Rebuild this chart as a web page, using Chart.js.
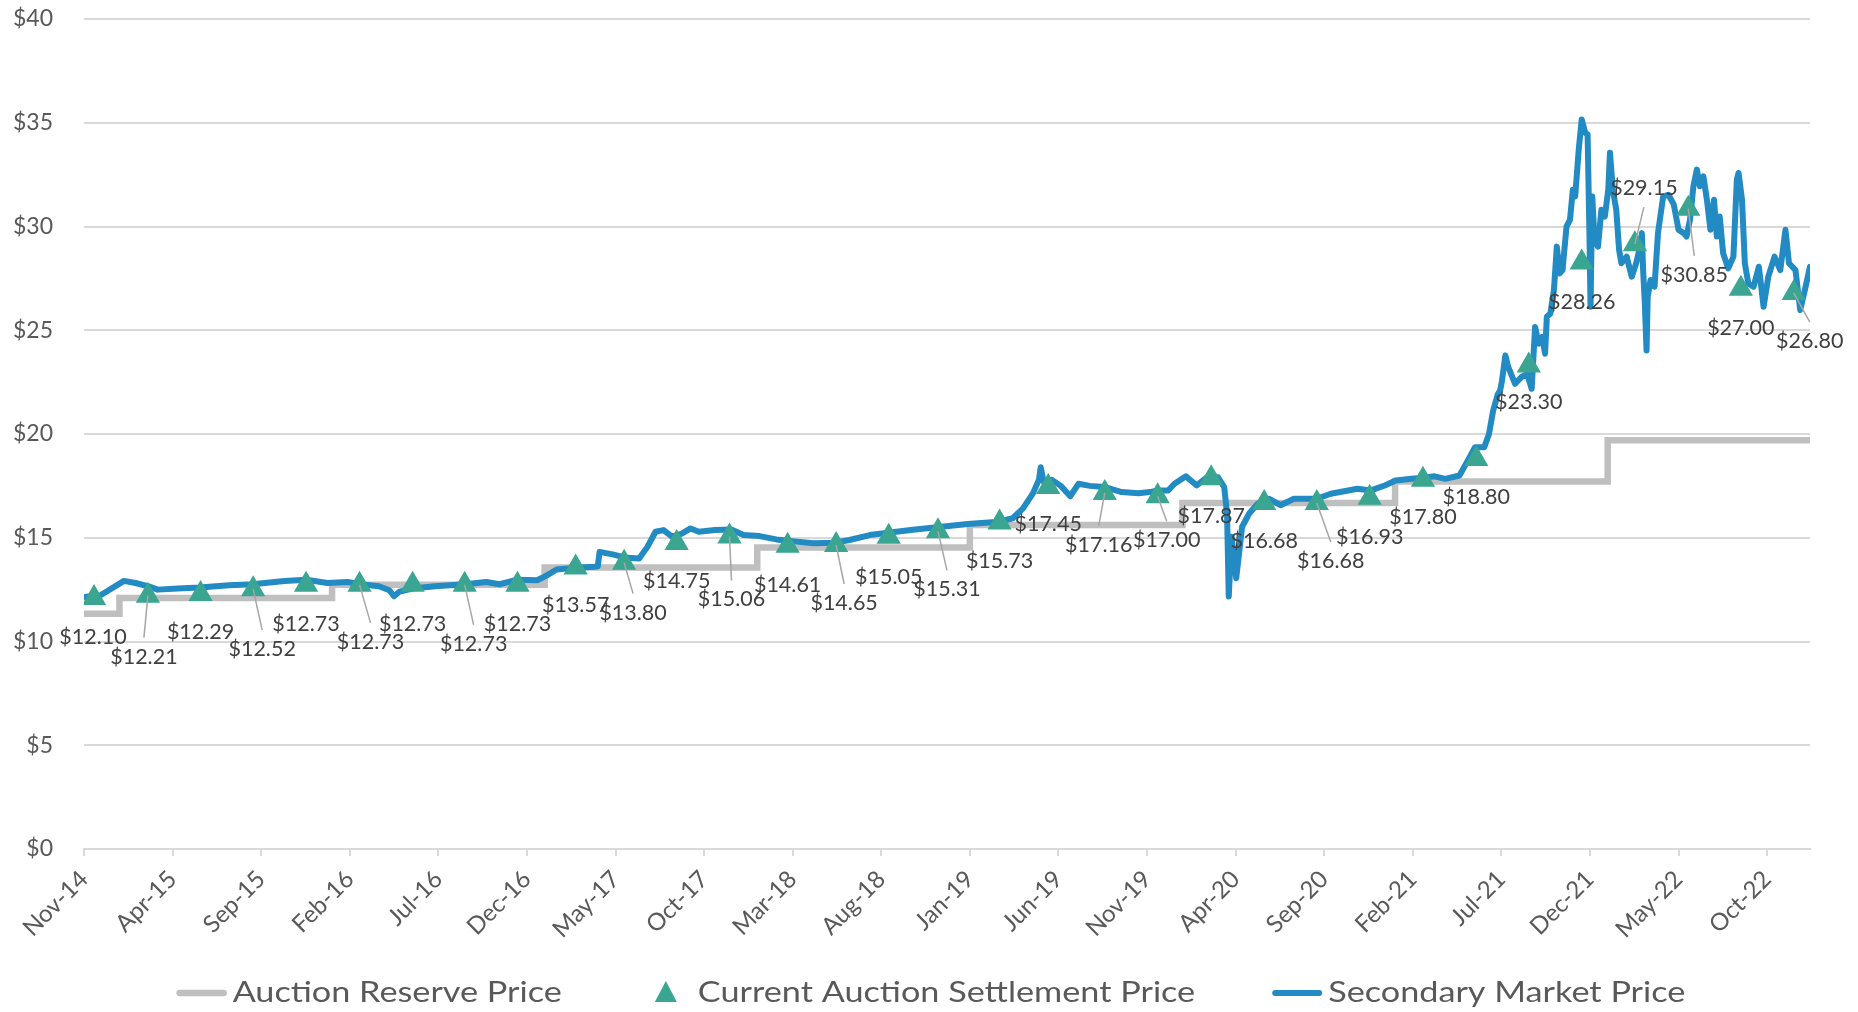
<!DOCTYPE html>
<html>
<head>
<meta charset="utf-8">
<script src="https://cdn.jsdelivr.net/npm/chart.js@4.4.0/dist/chart.umd.min.js"></script>
<style>
  html, body { margin: 0; padding: 0; background: #fff; }
  #wrap { width: 1858px; height: 1012px; }
</style>
</head>
<body>
<div id="wrap"><canvas id="carbon"></canvas></div>
<script>
// quarterly auction results (settlement price, $)
const auctionDates = [
  '2014-11-18', '2015-02-18', '2015-05-19', '2015-08-18', '2015-11-17', '2016-02-17',
  '2016-05-18', '2016-08-16', '2016-11-15', '2017-02-22', '2017-05-16', '2017-08-15',
  '2017-11-14', '2018-02-21', '2018-05-15', '2018-08-14', '2018-11-07', '2019-02-20',
  '2019-05-14', '2019-08-20', '2019-11-19', '2020-02-19', '2020-05-20', '2020-08-19',
  '2020-11-18', '2021-02-17', '2021-05-19', '2021-08-18', '2021-11-17', '2022-02-16',
  '2022-05-18', '2022-08-17', '2022-11-16'
];
const settlementPrices = [
  12.10, 12.21, 12.29, 12.52, 12.73, 12.73, 12.73, 12.73, 12.73, 13.57, 13.80, 14.75,
  15.06, 14.61, 14.65, 15.05, 15.31, 15.73, 17.45, 17.16, 17.00, 17.87, 16.68, 16.68,
  16.93, 17.80, 18.80, 23.30, 28.26, 29.15, 30.85, 27.00, 26.80
];

// auction reserve price, changes each January
const reserveDates = [
  '2014-11-01', '2015-01-01', '2016-01-01', '2017-01-01', '2018-01-01', '2019-01-01',
  '2020-01-01', '2021-01-01', '2022-01-01', '2022-12-14'
];
const reservePrices = [11.34, 12.10, 12.73, 13.57, 14.53, 15.62, 16.68, 17.71, 19.70, 19.70];

// secondary market price
const marketDates = [
  '2014-11-02', '2014-11-29', '2015-01-09', '2015-01-29', '2015-02-19', '2015-03-06',
  '2015-04-10', '2015-05-17', '2015-07-07', '2015-08-17', '2015-10-11', '2015-11-17',
  '2015-12-24', '2016-01-28', '2016-02-18', '2016-03-21', '2016-04-08', '2016-04-16',
  '2016-04-25', '2016-05-18', '2016-06-25', '2016-08-17', '2016-09-22', '2016-10-15',
  '2016-11-15', '2016-12-19', '2017-01-05', '2017-01-22', '2017-02-22', '2017-03-26',
  '2017-04-01', '2017-04-04', '2017-04-26', '2017-05-17', '2017-06-11', '2017-06-25',
  '2017-07-09', '2017-07-23', '2017-08-07', '2017-08-24', '2017-09-08', '2017-09-22',
  '2017-10-20', '2017-11-17', '2017-12-08', '2018-01-05', '2018-02-03', '2018-02-24',
  '2018-04-06', '2018-05-13', '2018-06-07', '2018-07-12', '2018-08-13', '2018-09-21',
  '2018-11-13', '2018-12-28', '2019-02-19', '2019-03-14', '2019-04-01', '2019-04-18',
  '2019-04-28', '2019-05-01', '2019-05-06', '2019-05-20', '2019-06-05', '2019-06-21',
  '2019-07-05', '2019-07-25', '2019-08-19', '2019-09-18', '2019-10-17', '2019-11-06',
  '2019-11-19', '2019-12-07', '2019-12-18', '2020-01-07', '2020-01-26', '2020-02-11',
  '2020-03-01', '2020-03-12', '2020-03-17', '2020-03-20', '2020-03-25', '2020-04-02',
  '2020-04-12', '2020-04-24', '2020-05-09', '2020-05-28', '2020-06-17', '2020-07-10',
  '2020-08-19', '2020-09-12', '2020-10-12', '2020-10-28', '2020-11-20', '2020-12-14',
  '2021-01-02', '2021-01-30', '2021-02-18', '2021-03-08', '2021-03-27', '2021-04-20',
  '2021-05-01', '2021-05-17', '2021-06-02', '2021-06-10', '2021-06-17', '2021-06-25',
  '2021-06-29', '2021-07-02', '2021-07-08', '2021-07-13', '2021-07-25', '2021-08-05',
  '2021-08-15', '2021-08-23', '2021-08-29', '2021-09-04', '2021-09-10', '2021-09-15',
  '2021-09-18', '2021-09-24', '2021-09-30', '2021-10-05', '2021-10-10', '2021-10-15',
  '2021-10-22', '2021-10-28', '2021-11-02', '2021-11-06', '2021-11-12', '2021-11-17',
  '2021-11-23', '2021-11-27', '2021-11-30', '2021-12-02', '2021-12-05', '2021-12-09',
  '2021-12-15', '2021-12-21', '2021-12-27', '2022-01-02', '2022-01-05', '2022-01-10',
  '2022-01-16', '2022-01-21', '2022-01-25', '2022-02-03', '2022-02-11', '2022-02-18',
  '2022-02-23', '2022-02-27', '2022-03-01', '2022-03-04', '2022-03-07', '2022-03-09',
  '2022-03-14', '2022-03-21', '2022-03-27', '2022-04-05', '2022-04-14', '2022-04-23',
  '2022-05-01', '2022-05-10', '2022-05-15', '2022-05-21', '2022-05-27', '2022-06-02',
  '2022-06-07', '2022-06-13', '2022-06-19', '2022-06-25', '2022-07-01', '2022-07-06',
  '2022-07-11', '2022-07-17', '2022-07-26', '2022-08-04', '2022-08-10', '2022-08-13',
  '2022-08-19', '2022-08-24', '2022-08-30', '2022-09-08', '2022-09-17', '2022-09-25',
  '2022-10-03', '2022-10-14', '2022-10-24', '2022-11-02', '2022-11-08', '2022-11-19',
  '2022-11-27', '2022-12-05', '2022-12-14'
];
const marketPrices = [
  12.15, 12.23, 12.92, 12.82, 12.66, 12.50,
  12.55, 12.60, 12.71, 12.76, 12.92, 12.98,
  12.82, 12.87, 12.76, 12.66, 12.47, 12.18,
  12.40, 12.55, 12.66, 12.76, 12.87, 12.76,
  12.98, 12.95, 13.19, 13.47, 13.56, 13.60,
  13.62, 14.32, 14.20, 14.05, 14.00, 14.56,
  15.29, 15.37, 15.05, 15.20, 15.45, 15.29,
  15.37, 15.40, 15.13, 15.08, 14.92, 14.85,
  14.73, 14.76, 14.89, 15.13, 15.24, 15.37,
  15.53, 15.66, 15.77, 15.94, 16.42, 17.15,
  17.80, 18.40, 17.70, 17.80, 17.50, 17.00,
  17.60, 17.50, 17.45, 17.20, 17.15, 17.20,
  17.28, 17.28, 17.60, 17.96, 17.52, 17.89,
  17.92, 17.44, 16.17, 12.17, 15.05, 13.05,
  15.53, 16.17, 16.65, 16.88, 16.57, 16.88,
  16.88, 17.12, 17.28, 17.36, 17.28, 17.52,
  17.76, 17.84, 17.89, 17.96, 17.84, 18.00,
  18.56, 19.36, 19.36, 20.00, 21.12, 21.92,
  22.10, 22.56, 23.79, 23.23, 22.42, 22.74,
  22.90, 22.18, 25.16, 24.35, 24.68, 23.87,
  25.65, 25.81, 26.94, 29.03, 27.74, 27.90,
  30.00, 30.32, 31.77, 31.45, 33.71, 35.16,
  34.52, 34.44, 29.84, 26.13, 31.45, 29.35,
  29.03, 30.81, 30.48, 31.77, 33.55, 31.77,
  30.81, 28.87, 28.23, 28.55, 27.58, 28.23,
  28.87, 29.68, 27.90, 26.29, 24.03, 26.61,
  27.42, 27.10, 29.68, 31.45, 31.53, 31.05,
  29.84, 29.68, 29.52, 30.32, 31.94, 32.74,
  31.94, 32.42, 31.29, 29.84, 31.29, 29.52,
  30.48, 28.71, 27.98, 28.55, 32.26, 32.58,
  31.29, 28.23, 27.26, 27.10, 28.06, 26.13,
  27.58, 28.55, 27.90, 29.84, 28.23, 27.90,
  25.97, 26.94, 28.06
];

// x-axis tick labels, one every five months from Nov-14
const tickLabels = [
  'Nov-14', 'Apr-15', 'Sep-15', 'Feb-16', 'Jul-16', 'Dec-16', 'May-17', 'Oct-17',
  'Mar-18', 'Aug-18', 'Jan-19', 'Jun-19', 'Nov-19', 'Apr-20', 'Sep-20', 'Feb-21',
  'Jul-21', 'Dec-21', 'May-22', 'Oct-22'
];

// where each settlement label sits relative to its marker (px), and which get a leader line
const labelOffsets = [
  [-1, 39], [-4, 61], [0, 38], [9, 60], [0, 39], [11, 57], [0, 39], [9, 59], [0, 39], [0, 38],
  [9, 50], [0, 38], [2, 63], [0, 39], [8, 58], [0, 40], [9, 58], [0, 38], [0, 37], [-6, 52],
  [9, 44], [0, 38], [0, 38], [14, 58], [0, 39], [0, 37], [0, 38], [0, 37], [0, 39], [9, -56],
  [6, 66], [0, 39], [16, 48]
];
const leaderLines = [1, 3, 5, 7, 10, 12, 14, 16, 19, 20, 23, 29, 30, 32];

// months since 1 Nov 2014 (fractional)
function toMonths(s) {
  const [y, m, d] = s.split('-').map(Number);
  const dim = new Date(y, m, 0).getDate();
  return (y - 2014) * 12 + (m - 11) + (d - 1) / dim;
}

function pts(dates, values) {
  return dates.map((d, i) => ({ x: toMonths(d), y: values[i] }));
}

const FONT = 'Lato, "Open Sans", sans-serif';
const GREY_TEXT = '#595959';

// settlement price labels with leader lines
const settleLabels = {
  id: 'settleLabels',
  afterDatasetsDraw(chart) {
    const meta = chart.getDatasetMeta(1);
    const ctx = chart.ctx;
    ctx.save();
    ctx.font = '21.5px ' + FONT;
    ctx.textAlign = 'center';
    ctx.textBaseline = 'middle';
    meta.data.forEach((pt, i) => {
      const [dx, dy] = labelOffsets[i];
      const lx = pt.x + dx, ly = pt.y + dy;
      if (leaderLines.includes(i)) {
        ctx.strokeStyle = '#A6A6A6';
        ctx.lineWidth = 1.5;
        ctx.beginPath();
        ctx.moveTo(pt.x, pt.y);
        ctx.lineTo(lx, ly + (dy > 0 ? -19 : 19));
        ctx.stroke();
      }
      ctx.fillStyle = '#404040';
      ctx.fillText('$' + settlementPrices[i].toFixed(2), lx, ly);
    });
    ctx.restore();
  }
};

// legend row drawn under the axis labels
const bottomLegend = {
  id: 'bottomLegend',
  afterDraw(chart) {
    const ctx = chart.ctx;
    ctx.save();
    ctx.font = '29px ' + FONT;
    ctx.textBaseline = 'middle';
    const y = 993, stretch = 1.18;
    const gaps = [92, 77];
    const items = chart.data.datasets.map(ds => {
      const tri = ds.showLine === false;
      return { ds, tri, symW: tri ? 24 : 50, symGap: tri ? 20 : 6, w: ctx.measureText(ds.label).width * stretch };
    });
    const total = items.reduce((s, it) => s + it.symW + it.symGap + it.w, 0) + gaps[0] + gaps[1];
    let x = 931 - total / 2;
    items.forEach((it, k) => {
      const ds = it.ds;
      if (it.tri) {
        const cx = x + it.symW / 2;
        ctx.fillStyle = ds.backgroundColor;
        ctx.beginPath();
        ctx.moveTo(cx, y - 12);
        ctx.lineTo(cx + 11, y + 9);
        ctx.lineTo(cx - 11, y + 9);
        ctx.closePath();
        ctx.fill();
      } else {
        ctx.strokeStyle = ds.borderColor;
        ctx.lineWidth = ds.borderWidth;
        ctx.lineCap = 'round';
        ctx.beginPath();
        ctx.moveTo(x + 3, y);
        ctx.lineTo(x + it.symW - 3, y);
        ctx.stroke();
      }
      x += it.symW + it.symGap;
      ctx.save();
      ctx.translate(x, y);
      ctx.scale(stretch, 1);
      ctx.fillStyle = GREY_TEXT;
      ctx.fillText(ds.label, 0, 0);
      ctx.restore();
      x += it.w + (gaps[k] || 0);
    });
    ctx.restore();
  }
};

const ctx = document.getElementById('carbon').getContext('2d');
new Chart(ctx, {
  type: 'line',
  data: {
    datasets: [
      {
        label: 'Auction Reserve Price',
        data: pts(reserveDates, reservePrices),
        borderColor: '#BFBFBF',
        borderWidth: 6.5,
        stepped: true,
        pointRadius: 0,
        order: 3
      },
      {
        label: 'Current Auction Settlement Price',
        data: pts(auctionDates, settlementPrices),
        showLine: false,
        pointStyle: 'triangle',
        pointRadius: 14,
        backgroundColor: '#3AA590',
        borderWidth: 0,
        order: 1
      },
      {
        label: 'Secondary Market Price',
        data: pts(marketDates, marketPrices),
        borderColor: '#228BC4',
        borderWidth: 6,
        borderJoinStyle: 'round',
        borderCapStyle: 'round',
        tension: 0,
        pointRadius: 0,
        order: 2
      }
    ]
  },
  options: {
    responsive: true,
    maintainAspectRatio: false,
    animation: false,
    events: [],
    layout: { padding: { left: 0, right: 48, top: 19, bottom: 63 } },
    plugins: {
      legend: { display: false },
      tooltip: { enabled: false }
    },
    scales: {
      x: {
        type: 'linear',
        min: 0,
        max: toMonths('2022-12-14'),
        afterBuildTicks: (scale) => {
          scale.ticks = tickLabels.map((t, i) => ({ value: i * 5 }));
        },
        afterFit: (scale) => { scale.height = 100; },
        grid: {
          drawOnChartArea: false,
          drawTicks: true,
          tickLength: 7,
          color: '#D9D9D9',
          lineWidth: 2
        },
        border: { display: true, color: '#D9D9D9', width: 2 },
        ticks: {
          autoSkip: false,
          maxRotation: 45,
          minRotation: 45,
          padding: 9,
          color: GREY_TEXT,
          font: { family: FONT, size: 24 },
          callback: (v, i) => tickLabels[i]
        }
      },
      y: {
        min: 0,
        max: 40,
        afterFit: (scale) => {
          scale.width = 84;
          scale.paddingTop = 0;
          scale.paddingBottom = 0;
        },
        grid: { color: '#D9D9D9', lineWidth: 2, drawTicks: false },
        border: { display: false },
        ticks: {
          stepSize: 5,
          padding: 31,
          color: GREY_TEXT,
          font: { family: FONT, size: 23 },
          callback: (v) => '$' + v
        }
      }
    }
  },
  plugins: [settleLabels, bottomLegend]
});
</script>
</body>
</html>
